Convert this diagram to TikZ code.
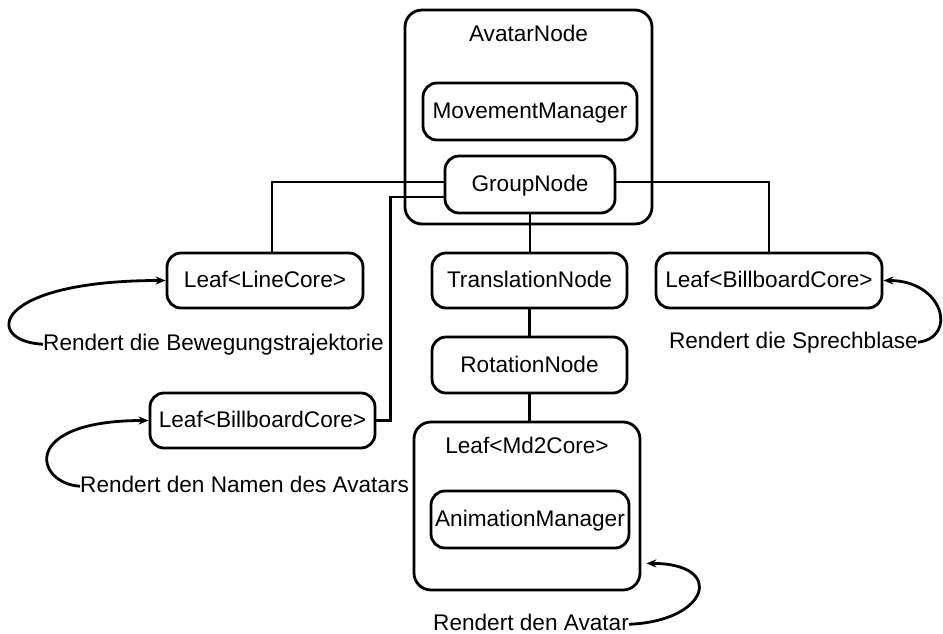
\documentclass[tikz,border=0pt]{standalone}
\usepackage{fontspec}
\setmainfont{Liberation Sans}
\usetikzlibrary{arrows.meta,calc}

\tikzset{
  box/.style={draw, line width=2.8pt, rounded corners=14pt, inner sep=0pt,
    align=center, text height=16pt, text depth=2pt},
  container/.style={draw, line width=2.8pt, rounded corners=17pt, inner sep=0pt},
  caption/.style={inner sep=0pt, text height=16pt, text depth=4.5pt},
  link/.style={line width=2.8pt},
  note/.style={line width=2.8pt, -{Stealth[length=10pt,width=8pt]}},
}

\begin{document}
\begin{tikzpicture}[x=1pt, y=-1pt, font=\fontsize{22.6}{27}\selectfont]
\useasboundingbox (0,0) rectangle (943,634);

% AvatarNode container with its two children
\node[container, minimum width=247pt, minimum height=214pt] (avatar) at (528.5,117) {};
\node[inner sep=0pt, anchor=base] (avatarlbl) at (528.5,42) {AvatarNode};
\node[box, minimum width=214pt, minimum height=57pt] (movement) at (530,111.5) {MovementManager};
\node[box, minimum width=170pt, minimum height=57pt] (group) at (530,184.5) {GroupNode};

% leaves and transform chain
\node[box, minimum width=196pt, minimum height=55pt] (linecore) at (265,280.5) {Leaf<LineCore>};
\node[box, minimum width=225pt, minimum height=55pt] (billL) at (262.5,420.5) {Leaf<BillboardCore>};
\node[box, minimum width=195pt, minimum height=55pt] (trans) at (529.5,280.5) {TranslationNode};
\node[box, minimum width=195pt, minimum height=56pt] (rot) at (529.5,365) {RotationNode};
\node[box, minimum width=226pt, minimum height=55pt] (billR) at (769,280.5) {Leaf<BillboardCore>};

% Md2 leaf container
\node[container, minimum width=226pt, minimum height=168pt] (md2) at (527,506) {};
\node[inner sep=0pt, anchor=base] (md2lbl) at (527,453) {Leaf<Md2Core>};
\node[box, minimum width=198pt, minimum height=57pt] (anim) at (530,519.5) {AnimationManager};

% tree connectors
\draw[link] ([yshift=2.5pt]group.west) -| ([xshift=7pt]linecore.north);
\coordinate (billLbend) at ($(billL.east)+(14,0)$);
\draw[link] ([yshift=-12.5pt]group.west) -| (billLbend) -- (billL.east);
\draw[link] ([yshift=2.5pt]group.east) -| (billR.north);
\draw[link] (group.south) -- (group.south |- trans.north);
\draw[link] (trans.south) -- (rot.north);
\draw[link] (rot.south) -- (rot.south |- md2.north);

% explanatory captions
\node[caption, anchor=base west] (c1) at (43,350) {Rendert die Bewegungstrajektorie};
\node[caption, anchor=base west] (c2) at (80,492) {Rendert den Namen des Avatars};
\node[caption, anchor=base east] (c3) at (918,348) {Rendert die Sprechblase};
\node[caption, anchor=base east] (c4) at (629,630) {Rendert den Avatar};

\coordinate (avtip) at ($(md2.south east)+(5,-28)$);

\draw[note] (c1.west) .. controls +(-60,-3) and +(-175,0) .. (linecore.west);
\draw[note] (c2.west) .. controls +(-45,-3) and +(-130,0) .. (billL.west);
\draw[note] (c3.east) .. controls +(40,-5) and +(60,0) .. (billR.east);
\draw[note] (c4.east) .. controls +(80,-3) and +(80,0) .. (avtip);
\end{tikzpicture}
\end{document}
